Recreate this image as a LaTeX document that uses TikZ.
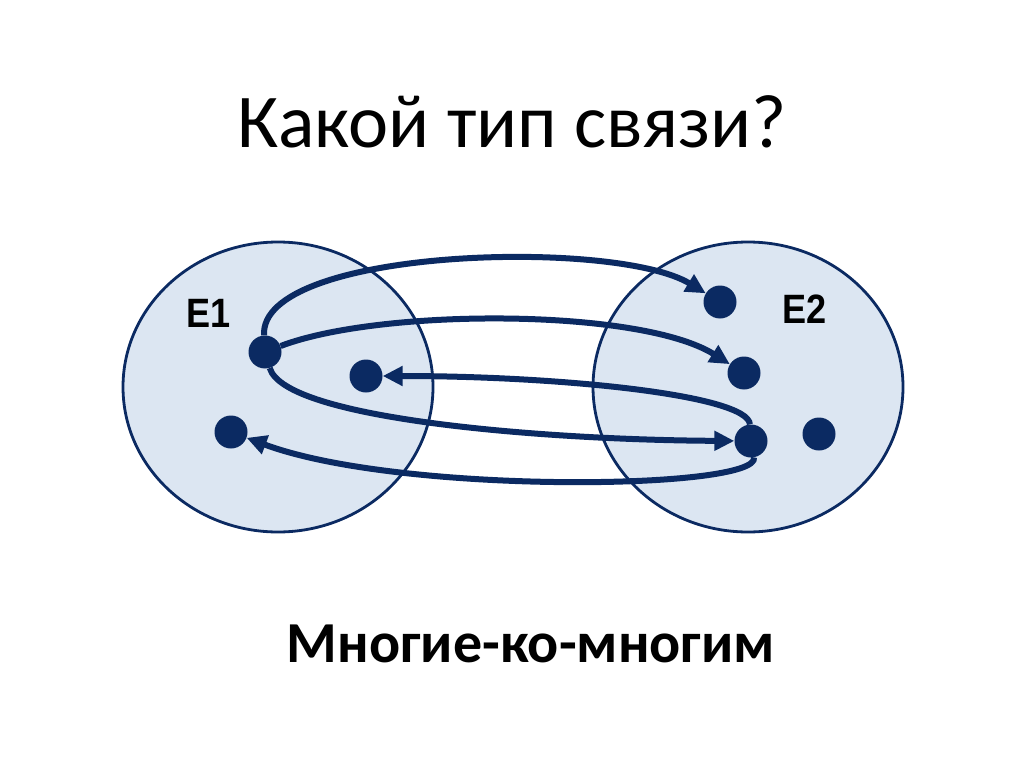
\documentclass[tikz,border=0pt]{standalone}
\usepackage{fontspec}
\setmainfont{Carlito}
\newfontfamily\arialfont{Liberation Sans}
\usetikzlibrary{arrows.meta,shapes.geometric}
\definecolor{navy}{HTML}{0B2A62}
\definecolor{setfill}{HTML}{DCE6F2}
\begin{document}
\begin{tikzpicture}[x=1pt,y=-1pt,
  setshape/.style={ellipse, draw=navy, line width=2.8pt, fill=setfill,
    minimum width=310pt, minimum height=290pt, inner sep=0pt},
  dot/.style={circle, fill=navy, inner sep=0pt, minimum size=33pt},
  setlabel/.style={anchor=base west, inner sep=0pt, font=\arialfont\bfseries\fontsize{41}{41}\selectfont, text=black},
  arr/.style={draw=navy, line width=6pt, -{Triangle[length=20pt,width=19pt]}}]
\useasboundingbox (0,0) rectangle (1024,767);
\fill[white] (0,0) rectangle (1024,767);
% title
\node[anchor=base, font=\fontsize{76}{76}\selectfont] (title) at (512,148) {Какой тип связи?};
% sets
\node[setshape] (S1) at (278,387) {};
\node[setshape] (S2) at (748,387) {};
\node[setlabel] (L1) at (186,327) {\scalebox{0.88}[1]{E1}};
\node[setlabel] (L2) at (782,323) {\scalebox{0.88}[1]{E2}};
% elements
\node[dot] (A) at (265,352) {};
\node[dot] (B) at (366,376) {};
\node[dot] (C) at (231,432) {};
\node[dot] (D) at (720,302) {};
\node[dot] (F) at (744,373) {};
\node[dot] (G) at (751,441) {};
\node[dot] (H) at (819,434) {};
% connectors
\draw[arr] (A) .. controls (259,248) and (615,238) .. (D);
\draw[arr] (A) .. controls (380,308) and (640,308) .. (F);
\draw[arr] (A) .. controls (285,420) and (550,440) .. (G);
\draw[arr] (G) .. controls (748,395) and (560,376) .. (B);
\draw[arr] (G) .. controls (760,490) and (400,495) .. (C);
% answer
\node[anchor=base, font=\bfseries\fontsize{58}{58}\selectfont] (answer) at (531,662) {Многие-ко-многим};
\end{tikzpicture}
\end{document}
